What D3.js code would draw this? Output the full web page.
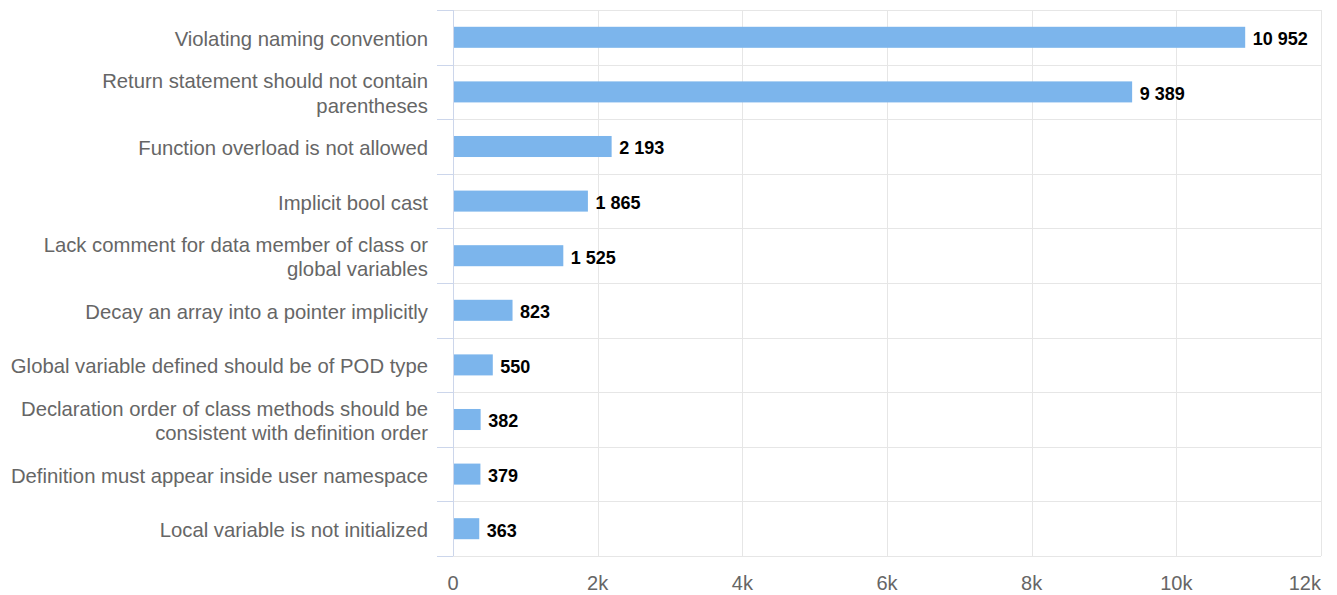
<!DOCTYPE html>
<html>
<head>
<meta charset="utf-8">
<script src="https://cdn.jsdelivr.net/npm/d3@7"></script>
<style>
  html, body { margin: 0; padding: 0; background: #fff; }
  svg { display: block; font-family: "Liberation Sans", Arial, sans-serif; }
</style>
</head>
<body>
<svg id="chart" width="1337" height="595"></svg>
<script>
// Rule violations, count per rule
const categories = [
  "Violating naming convention",
  "Return statement should not contain parentheses",
  "Function overload is not allowed",
  "Implicit bool cast",
  "Lack comment for data member of class or global variables",
  "Decay an array into a pointer implicitly",
  "Global variable defined should be of POD type",
  "Declaration order of class methods should be consistent with definition order",
  "Definition must appear inside user namespace",
  "Local variable is not initialized"
];
const counts = [10952, 9389, 2193, 1865, 1525, 823, 550, 382, 379, 363];
const xTicks = [0, 2000, 4000, 6000, 8000, 10000, 12000];
const xTickLabels = ["0", "2k", "4k", "6k", "8k", "10k", "12k"];

const svg = d3.select("#chart");
const plot = { left: 453, right: 1321, top: 10, bottom: 556 };

const x = d3.scaleLinear().domain([0, 12000]).range([plot.left, plot.right]);
const y = d3.scaleBand().domain(categories).range([plot.top, plot.bottom]).padding(0);
const barH = y.bandwidth() * 0.385;

// vertical grid lines
svg.append("g").selectAll("line")
  .data(xTicks).join("line")
  .attr("x1", d => Math.round(x(d)) + 0.5).attr("x2", d => Math.round(x(d)) + 0.5)
  .attr("y1", plot.top).attr("y2", plot.bottom)
  .attr("stroke", "#e6e6e6").attr("stroke-width", 1);

// horizontal grid lines at category boundaries
const bounds = categories.map(c => y(c)).concat([plot.bottom]);
svg.append("g").selectAll("line")
  .data(bounds).join("line")
  .attr("x1", plot.left).attr("x2", plot.right)
  .attr("y1", d => Math.round(d) + 0.5).attr("y2", d => Math.round(d) + 0.5)
  .attr("stroke", "#e6e6e6").attr("stroke-width", 1);

// category axis line and ticks
svg.append("line")
  .attr("x1", plot.left + 0.5).attr("x2", plot.left + 0.5)
  .attr("y1", plot.top).attr("y2", plot.bottom)
  .attr("stroke", "#ccd6eb");
svg.append("g").selectAll("line")
  .data(bounds).join("line")
  .attr("x1", plot.left - 16).attr("x2", plot.left)
  .attr("y1", d => Math.round(d) + 0.5).attr("y2", d => Math.round(d) + 0.5)
  .attr("stroke", "#ccd6eb");

// bars
svg.append("g").selectAll("rect")
  .data(categories).join("rect")
  .attr("x", x(0) + 1)
  .attr("y", (d) => y(d) + (y.bandwidth() - barH) / 2)
  .attr("width", (d, i) => x(counts[i]) - x(0) - 1)
  .attr("height", barH)
  .attr("fill", "#7cb5ec");

// value labels
const fmt = v => d3.format(",")(v).replace(/,/g, " ");
svg.append("g").selectAll("text")
  .data(categories).join("text")
  .attr("x", (d, i) => x(counts[i]) + 7.5)
  .attr("y", d => y(d) + y.bandwidth() / 2 + 7.8)
  .attr("font-size", 18).attr("font-weight", "bold").attr("fill", "#000")
  .text((d, i) => fmt(counts[i]));

// category labels, wrapped to the label column width
const catG = svg.append("g");
const maxW = 426, lineH = 24.5, catFont = 20.3;
categories.forEach(c => {
  const t = catG.append("text")
    .attr("x", 428).attr("text-anchor", "end")
    .attr("font-size", catFont).attr("fill", "#666");
  const words = c.split(" ");
  const lines = [];
  let cur = [];
  const probe = t.append("tspan");
  words.forEach(w => {
    const trial = cur.concat([w]).join(" ");
    probe.text(trial);
    if (probe.node().getComputedTextLength() > maxW && cur.length) {
      lines.push(cur.join(" "));
      cur = [w];
    } else {
      cur.push(w);
    }
  });
  lines.push(cur.join(" "));
  probe.remove();
  const cy = y(c) + y.bandwidth() / 2;
  const first = cy - (lines.length - 1) * lineH / 2 + 8.5;
  lines.forEach((ln, k) => {
    t.append("tspan").attr("x", 428).attr("y", first + k * lineH).text(ln);
  });
});

// value axis labels; the last one is kept inside the plot edge
svg.append("g").selectAll("text")
  .data(xTicks).join("text")
  .attr("x", d => x(d)).attr("y", 590)
  .attr("text-anchor", (d, i) => i === xTicks.length - 1 ? "end" : "middle")
  .attr("font-size", 20).attr("fill", "#666")
  .text((d, i) => xTickLabels[i]);
</script>
</body>
</html>
